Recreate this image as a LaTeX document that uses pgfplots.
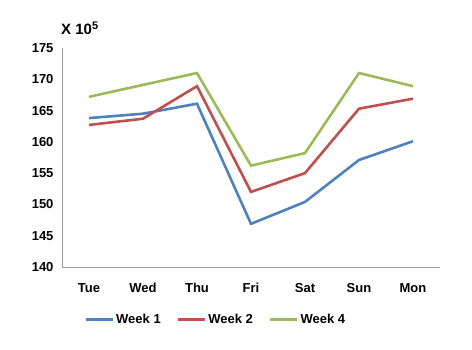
\documentclass[border=0pt]{standalone}
\usepackage{pgfplots}
\pgfplotsset{compat=1.18}
\usepackage{fontspec}
\setmainfont{Liberation Sans}
\definecolor{wkA}{HTML}{4F81BD}
\definecolor{wkB}{HTML}{C0504D}
\definecolor{wkD}{HTML}{9BBB59}
\newcommand\lbl{\fontsize{13}{15}\selectfont\bfseries}
\begin{document}
\begin{tikzpicture}[font=\lbl]
\path (-62pt,-83pt) rectangle (410pt,267pt);
\begin{axis}[
  at={(0,0)}, anchor=south west,
  scale only axis,
  width=378pt, height=219pt,
  xmin=-0.5, xmax=6.5,
  ymin=140, ymax=175,
  ytick={140,145,...,175},
  xtick={0,...,6},
  xticklabels={Tue,Wed,Thu,Fri,Sat,Sun,Mon},
  axis lines=left,
  axis line style={gray!80, line width=0.8pt, -},
  major tick length=0pt,
  tick label style={font=\lbl},
  /pgf/number format/assume math mode=true,
  yticklabel style={xshift=-5pt},
  xticklabel style={yshift=-12pt, text height=9.5pt, text depth=0pt},
  legend style={at={(0.407,-0.205)}, anchor=north, draw=none, legend columns=3,
    font=\lbl, inner sep=0pt,
    /tikz/every even column/.append style={column sep=14pt}},
  legend image code/.code={\draw[#1] (0pt,0pt) -- (27pt,0pt);},
  every axis plot/.append style={line width=2.6pt, line join=miter},
  clip=false,
]
\addplot[wkA] coordinates {(0,163.8) (1,164.5) (2,166.1) (3,146.9) (4,150.4) (5,157.1) (6,160.1)};
\addplot[wkB] coordinates {(0,162.7) (1,163.7) (2,168.9) (3,152.0) (4,155.0) (5,165.3) (6,166.9)};
\addplot[wkD] coordinates {(0,167.2) (1,169.1) (2,171.0) (3,156.2) (4,158.2) (5,171.0) (6,168.9)};
\legend{Week 1,Week 2,Week 4}
\node[anchor=south west, inner sep=0pt, font=\fontsize{15}{17}\selectfont\bfseries] at (rel axis cs:0,1) [yshift=13pt, xshift=-1pt] {X 10\raisebox{5pt}{\fontsize{11}{12}\selectfont 5}};
\end{axis}
\end{tikzpicture}
\end{document}
